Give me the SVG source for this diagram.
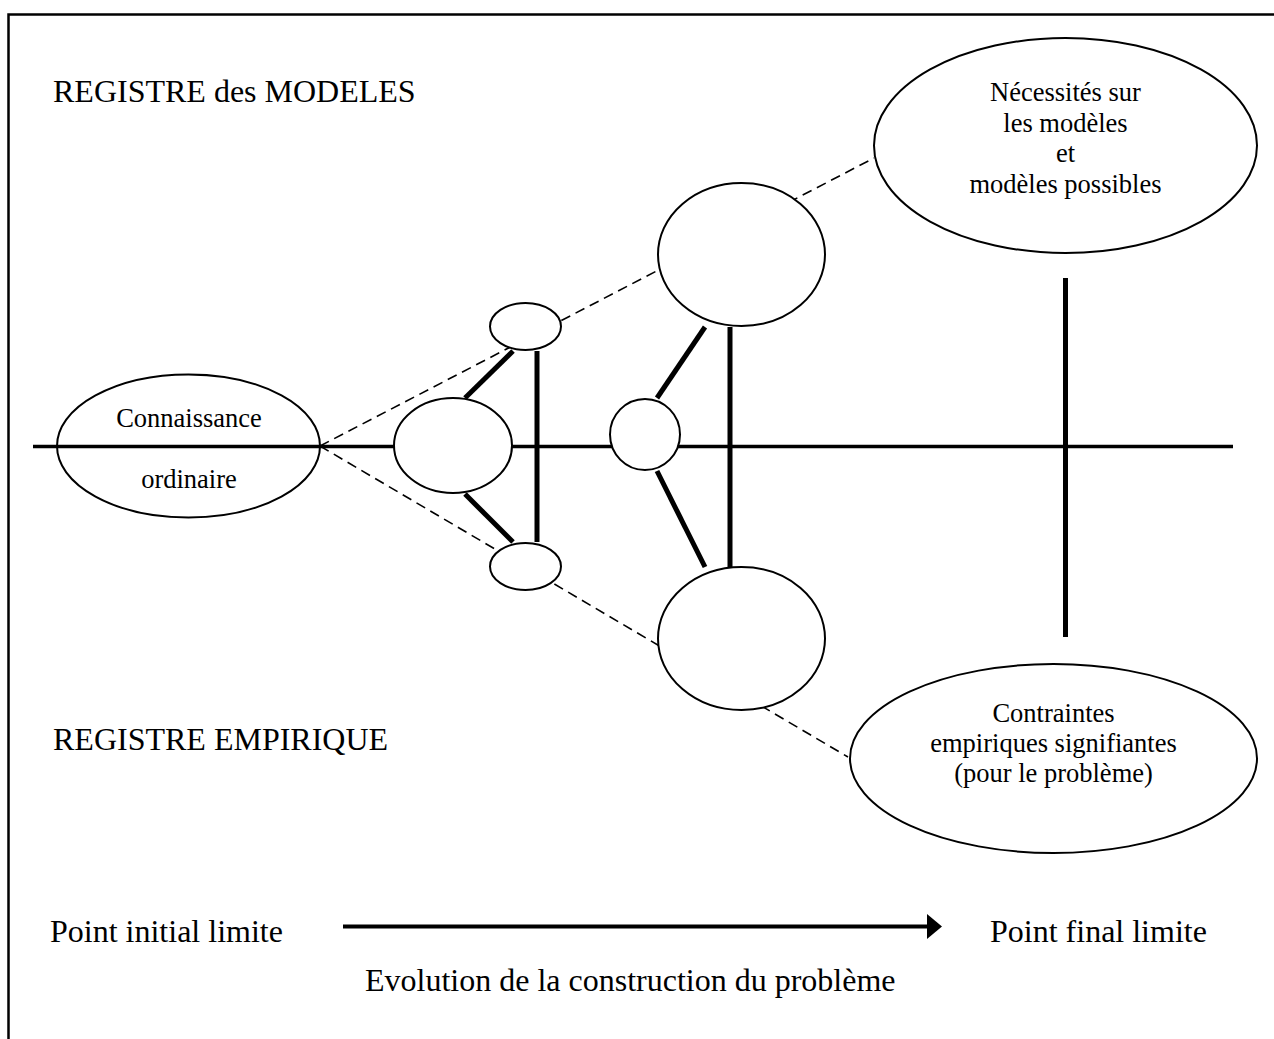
<svg xmlns="http://www.w3.org/2000/svg" width="1274" height="1039" viewBox="0 0 1274 1039">
<style>
text{font-family:"Liberation Serif","Times New Roman",serif;fill:#000}
.big{font-size:32px}
.lbl{font-size:26.5px;text-anchor:middle}
.node{fill:#fff;stroke:#000;stroke-width:2}
.axis{stroke:#000;stroke-width:3.5;fill:none}
.thick{stroke:#000;stroke-width:5;fill:none}
.dash{stroke:#000;stroke-width:1.6;stroke-dasharray:10 6;fill:none}
</style>
<rect x="0" y="0" width="1274" height="1039" fill="#fff"/>
<rect x="8.5" y="14.5" width="1300" height="1100" fill="none" stroke="#000" stroke-width="2.5"/>
<text class="big" x="53" y="102">REGISTRE des MODELES</text>
<text class="big" x="53" y="750">REGISTRE EMPIRIQUE</text>
<g id="connectors">
<line class="axis" x1="33" y1="446.5" x2="1233" y2="446.5"/>
<line class="dash" x1="320" y1="446" x2="874" y2="158"/>
<line class="dash" x1="320" y1="446" x2="848" y2="757"/>
<line class="thick" x1="465" y1="398" x2="513" y2="351"/>
<line class="thick" x1="465" y1="494" x2="513" y2="542"/>
<line class="thick" x1="537" y1="351" x2="537" y2="542" stroke-width="4.5"/>
<line class="thick" x1="657" y1="398" x2="705" y2="327"/>
<line class="thick" x1="657" y1="471" x2="705" y2="567"/>
<line class="thick" x1="730" y1="327" x2="730" y2="567"/>
<line class="thick" x1="1065.5" y1="278" x2="1065.5" y2="637"/>
</g>
<g id="connaissance">
<ellipse cx="188.5" cy="446" rx="131.5" ry="71.5" fill="none" stroke="#000" stroke-width="2"/>
<text class="lbl" x="189" y="427">Connaissance</text>
<text class="lbl" x="189" y="488">ordinaire</text>
</g>
<g id="n-left-mid"><ellipse class="node" cx="453" cy="445.5" rx="59" ry="47.5"/></g>
<g id="n-small-top"><ellipse class="node" cx="525.5" cy="326.5" rx="35.5" ry="23.5"/></g>
<g id="n-small-bottom"><ellipse class="node" cx="525.5" cy="566.5" rx="35.5" ry="23.5"/></g>
<g id="n-mid"><ellipse class="node" cx="645" cy="434.5" rx="35" ry="35.5"/></g>
<g id="n-big-top"><ellipse class="node" cx="741.5" cy="254.5" rx="83.5" ry="71.5"/></g>
<g id="n-big-bottom"><ellipse class="node" cx="741.5" cy="638.5" rx="83.5" ry="71.5"/></g>
<g id="necessites">
<ellipse class="node" cx="1065.5" cy="145.5" rx="191.5" ry="107.5"/>
<text class="lbl" x="1065.5" y="101">Nécessités sur</text>
<text class="lbl" x="1065.5" y="132">les modèles</text>
<text class="lbl" x="1065.5" y="162">et</text>
<text class="lbl" x="1065.5" y="193">modèles possibles</text>
</g>
<g id="contraintes">
<ellipse class="node" cx="1053.5" cy="758.5" rx="203.5" ry="94.5"/>
<text class="lbl" x="1053.5" y="722">Contraintes</text>
<text class="lbl" x="1053.5" y="752">empiriques signifiantes</text>
<text class="lbl" x="1053.5" y="782">(pour le problème)</text>
</g>
<g id="evolution">
<text class="big" x="50" y="942">Point initial limite</text>
<line x1="343" y1="926.5" x2="929" y2="926.5" stroke="#000" stroke-width="4"/>
<polygon points="927,914 942,926.5 927,939" fill="#000"/>
<text class="big" x="990" y="942">Point final limite</text>
<text class="big" x="365" y="991">Evolution de la construction du problème</text>
</g>
</svg>
